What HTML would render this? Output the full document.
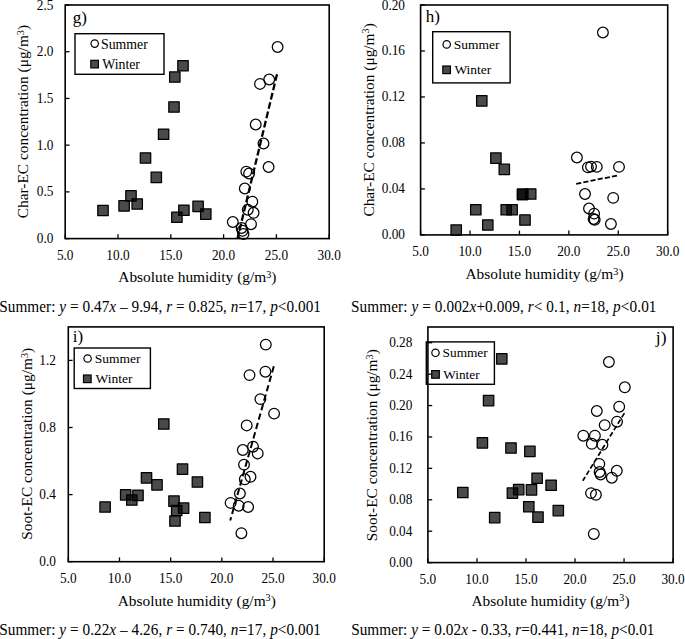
<!DOCTYPE html>
<html><head><meta charset="utf-8"><style>
html,body{margin:0;padding:0;background:#fff;width:685px;height:639px;overflow:hidden}
svg{display:block}
text{font-family:"Liberation Serif", serif;fill:#000}
</style></head><body>
<svg width="685" height="639" viewBox="0 0 685 639">
<rect width="685" height="639" fill="#fff"/>
<g id="pg">
<circle cx="277.6" cy="47" r="5.35" fill="none" stroke="#000" stroke-width="1.25"/>
<circle cx="260" cy="83.9" r="5.35" fill="none" stroke="#000" stroke-width="1.25"/>
<circle cx="269.2" cy="79.5" r="5.35" fill="none" stroke="#000" stroke-width="1.25"/>
<circle cx="255.7" cy="124.5" r="5.35" fill="none" stroke="#000" stroke-width="1.25"/>
<circle cx="263.5" cy="143.5" r="5.35" fill="none" stroke="#000" stroke-width="1.25"/>
<circle cx="268.6" cy="167" r="5.35" fill="none" stroke="#000" stroke-width="1.25"/>
<circle cx="246.3" cy="171.6" r="5.35" fill="none" stroke="#000" stroke-width="1.25"/>
<circle cx="249.1" cy="173.5" r="5.35" fill="none" stroke="#000" stroke-width="1.25"/>
<circle cx="244.8" cy="188.5" r="5.35" fill="none" stroke="#000" stroke-width="1.25"/>
<circle cx="252.3" cy="201.7" r="5.35" fill="none" stroke="#000" stroke-width="1.25"/>
<circle cx="247.8" cy="209.7" r="5.35" fill="none" stroke="#000" stroke-width="1.25"/>
<circle cx="253.6" cy="212.8" r="5.35" fill="none" stroke="#000" stroke-width="1.25"/>
<circle cx="232.8" cy="222" r="5.35" fill="none" stroke="#000" stroke-width="1.25"/>
<circle cx="251" cy="224.2" r="5.35" fill="none" stroke="#000" stroke-width="1.25"/>
<circle cx="241.6" cy="228" r="5.35" fill="none" stroke="#000" stroke-width="1.25"/>
<circle cx="242.5" cy="230.8" r="5.35" fill="none" stroke="#000" stroke-width="1.25"/>
<circle cx="243.5" cy="234" r="5.35" fill="none" stroke="#000" stroke-width="1.25"/>
<rect x="97.8" y="205.3" width="10.4" height="10.4" fill="#000" fill-opacity="0.71" stroke="#000" stroke-width="1.25" stroke-linejoin="round"/>
<rect x="118.9" y="200.7" width="10.4" height="10.4" fill="#000" fill-opacity="0.71" stroke="#000" stroke-width="1.25" stroke-linejoin="round"/>
<rect x="125.8" y="190.7" width="10.4" height="10.4" fill="#000" fill-opacity="0.71" stroke="#000" stroke-width="1.25" stroke-linejoin="round"/>
<rect x="132" y="198.8" width="10.4" height="10.4" fill="#000" fill-opacity="0.71" stroke="#000" stroke-width="1.25" stroke-linejoin="round"/>
<rect x="140.3" y="152.8" width="10.4" height="10.4" fill="#000" fill-opacity="0.71" stroke="#000" stroke-width="1.25" stroke-linejoin="round"/>
<rect x="151.1" y="172.1" width="10.4" height="10.4" fill="#000" fill-opacity="0.71" stroke="#000" stroke-width="1.25" stroke-linejoin="round"/>
<rect x="158.4" y="129" width="10.4" height="10.4" fill="#000" fill-opacity="0.71" stroke="#000" stroke-width="1.25" stroke-linejoin="round"/>
<rect x="171.7" y="212" width="10.4" height="10.4" fill="#000" fill-opacity="0.71" stroke="#000" stroke-width="1.25" stroke-linejoin="round"/>
<rect x="178.7" y="205" width="10.4" height="10.4" fill="#000" fill-opacity="0.71" stroke="#000" stroke-width="1.25" stroke-linejoin="round"/>
<rect x="192.9" y="201.2" width="10.4" height="10.4" fill="#000" fill-opacity="0.71" stroke="#000" stroke-width="1.25" stroke-linejoin="round"/>
<rect x="200.6" y="208.9" width="10.4" height="10.4" fill="#000" fill-opacity="0.71" stroke="#000" stroke-width="1.25" stroke-linejoin="round"/>
<rect x="177.8" y="60.5" width="10.4" height="10.4" fill="#000" fill-opacity="0.71" stroke="#000" stroke-width="1.25" stroke-linejoin="round"/>
<rect x="169.6" y="71.8" width="10.4" height="10.4" fill="#000" fill-opacity="0.71" stroke="#000" stroke-width="1.25" stroke-linejoin="round"/>
<rect x="168.8" y="101.8" width="10.4" height="10.4" fill="#000" fill-opacity="0.71" stroke="#000" stroke-width="1.25" stroke-linejoin="round"/>
<line x1="277" y1="74.2" x2="237.5" y2="238.6" stroke="#000" stroke-width="2.3" stroke-dasharray="6.8 2.8"/>
<rect x="75.0" y="33.7" width="89" height="40.6" fill="#fff" stroke="#000" stroke-width="1.4"/>
<circle cx="94.7" cy="43.6" r="3.7" fill="none" stroke="#000" stroke-width="1.2"/>
<rect x="90.8" y="60.3" width="7.6" height="7.6" fill="#000" fill-opacity="0.71" stroke="#000" stroke-width="1.2"/>
<text x="101.0" y="48.9" font-size="13.8">Summer</text>
<text x="102.2" y="69.2" font-size="13.8">Winter</text>
<rect x="65.2" y="5.0" width="264" height="233.6" fill="none" stroke="#000" stroke-width="1.6"/>
<line x1="65.2" y1="238.6" x2="69.5" y2="238.6" stroke="#000" stroke-width="1.3"/>
<text transform="translate(53.4,243.2) scale(1,1.07)" text-anchor="end" font-size="13.3">0.0</text>
<line x1="65.2" y1="191.88" x2="69.5" y2="191.88" stroke="#000" stroke-width="1.3"/>
<text transform="translate(53.4,196.48) scale(1,1.07)" text-anchor="end" font-size="13.3">0.5</text>
<line x1="65.2" y1="145.16" x2="69.5" y2="145.16" stroke="#000" stroke-width="1.3"/>
<text transform="translate(53.4,149.76) scale(1,1.07)" text-anchor="end" font-size="13.3">1.0</text>
<line x1="65.2" y1="98.44" x2="69.5" y2="98.44" stroke="#000" stroke-width="1.3"/>
<text transform="translate(53.4,103.04) scale(1,1.07)" text-anchor="end" font-size="13.3">1.5</text>
<line x1="65.2" y1="51.72" x2="69.5" y2="51.72" stroke="#000" stroke-width="1.3"/>
<text transform="translate(53.4,56.32) scale(1,1.07)" text-anchor="end" font-size="13.3">2.0</text>
<line x1="65.2" y1="5" x2="69.5" y2="5" stroke="#000" stroke-width="1.3"/>
<text transform="translate(53.4,9.6) scale(1,1.07)" text-anchor="end" font-size="13.3">2.5</text>
<line x1="65.2" y1="238.6" x2="65.2" y2="234.3" stroke="#000" stroke-width="1.3"/>
<text transform="translate(65.2,260.0) scale(1,1.07)" text-anchor="middle" font-size="13.3">5.0</text>
<line x1="118" y1="238.6" x2="118" y2="234.3" stroke="#000" stroke-width="1.3"/>
<text transform="translate(118,260.0) scale(1,1.07)" text-anchor="middle" font-size="13.3">10.0</text>
<line x1="170.8" y1="238.6" x2="170.8" y2="234.3" stroke="#000" stroke-width="1.3"/>
<text transform="translate(170.8,260.0) scale(1,1.07)" text-anchor="middle" font-size="13.3">15.0</text>
<line x1="223.6" y1="238.6" x2="223.6" y2="234.3" stroke="#000" stroke-width="1.3"/>
<text transform="translate(223.6,260.0) scale(1,1.07)" text-anchor="middle" font-size="13.3">20.0</text>
<line x1="276.4" y1="238.6" x2="276.4" y2="234.3" stroke="#000" stroke-width="1.3"/>
<text transform="translate(276.4,260.0) scale(1,1.07)" text-anchor="middle" font-size="13.3">25.0</text>
<line x1="329.2" y1="238.6" x2="329.2" y2="234.3" stroke="#000" stroke-width="1.3"/>
<text transform="translate(329.2,260.0) scale(1,1.07)" text-anchor="middle" font-size="13.3">30.0</text>
<text x="118.3" y="282.1" font-size="15.4">Absolute humidity (g/m<tspan font-size="0.66em" dy="-4.3">3</tspan><tspan dy="4.3">)</tspan></text>
<text transform="translate(28.3,218.3) rotate(-90)" font-size="15.4">Char-EC concentration (μg/m<tspan font-size="0.66em" dy="-4.3">3</tspan><tspan dy="4.3">)</tspan></text>
<text x="72.8" y="23.0" font-size="17">g)</text>
<text transform="translate(-0.8,311.6) scale(1,1.04)" font-size="15.25" textLength="321.8" lengthAdjust="spacing">Summer: <tspan font-style="italic">y</tspan> = 0.47<tspan font-style="italic">x</tspan> – 9.94, <tspan font-style="italic">r</tspan> = 0.825, <tspan font-style="italic">n</tspan>=17, <tspan font-style="italic">p</tspan>&lt;0.001</text>
</g>
<g id="ph">
<circle cx="602.9" cy="32.5" r="5.35" fill="none" stroke="#000" stroke-width="1.25"/>
<circle cx="576.9" cy="157.5" r="5.35" fill="none" stroke="#000" stroke-width="1.25"/>
<circle cx="587.9" cy="167.4" r="5.35" fill="none" stroke="#000" stroke-width="1.25"/>
<circle cx="591" cy="166.6" r="5.35" fill="none" stroke="#000" stroke-width="1.25"/>
<circle cx="596.8" cy="166.9" r="5.35" fill="none" stroke="#000" stroke-width="1.25"/>
<circle cx="619" cy="166.9" r="5.35" fill="none" stroke="#000" stroke-width="1.25"/>
<circle cx="585" cy="194" r="5.35" fill="none" stroke="#000" stroke-width="1.25"/>
<circle cx="613.2" cy="197.9" r="5.35" fill="none" stroke="#000" stroke-width="1.25"/>
<circle cx="589" cy="208.5" r="5.35" fill="none" stroke="#000" stroke-width="1.25"/>
<circle cx="594.1" cy="213.6" r="5.35" fill="none" stroke="#000" stroke-width="1.25"/>
<circle cx="593.6" cy="219" r="5.35" fill="none" stroke="#000" stroke-width="1.25"/>
<circle cx="594.7" cy="219.8" r="5.35" fill="none" stroke="#000" stroke-width="1.25"/>
<circle cx="610.9" cy="224" r="5.35" fill="none" stroke="#000" stroke-width="1.25"/>
<rect x="451" y="224.8" width="10.4" height="10.4" fill="#000" fill-opacity="0.71" stroke="#000" stroke-width="1.25" stroke-linejoin="round"/>
<rect x="470.6" y="204.5" width="10.4" height="10.4" fill="#000" fill-opacity="0.71" stroke="#000" stroke-width="1.25" stroke-linejoin="round"/>
<rect x="476.6" y="95.7" width="10.4" height="10.4" fill="#000" fill-opacity="0.71" stroke="#000" stroke-width="1.25" stroke-linejoin="round"/>
<rect x="482.6" y="219.8" width="10.4" height="10.4" fill="#000" fill-opacity="0.71" stroke="#000" stroke-width="1.25" stroke-linejoin="round"/>
<rect x="490.7" y="152.9" width="10.4" height="10.4" fill="#000" fill-opacity="0.71" stroke="#000" stroke-width="1.25" stroke-linejoin="round"/>
<rect x="499.1" y="164.2" width="10.4" height="10.4" fill="#000" fill-opacity="0.71" stroke="#000" stroke-width="1.25" stroke-linejoin="round"/>
<rect x="501" y="204.5" width="10.4" height="10.4" fill="#000" fill-opacity="0.71" stroke="#000" stroke-width="1.25" stroke-linejoin="round"/>
<rect x="506.9" y="204.5" width="10.4" height="10.4" fill="#000" fill-opacity="0.71" stroke="#000" stroke-width="1.25" stroke-linejoin="round"/>
<rect x="517.4" y="189.1" width="10.4" height="10.4" fill="#000" fill-opacity="0.71" stroke="#000" stroke-width="1.25" stroke-linejoin="round"/>
<rect x="517.4" y="189.1" width="10.4" height="10.4" fill="#000" fill-opacity="0.71" stroke="#000" stroke-width="1.25" stroke-linejoin="round"/>
<rect x="519.8" y="214.8" width="10.4" height="10.4" fill="#000" fill-opacity="0.71" stroke="#000" stroke-width="1.25" stroke-linejoin="round"/>
<rect x="525.5" y="188.8" width="10.4" height="10.4" fill="#000" fill-opacity="0.71" stroke="#000" stroke-width="1.25" stroke-linejoin="round"/>
<line x1="576.2" y1="183.8" x2="618" y2="175.4" stroke="#000" stroke-width="1.8" stroke-dasharray="5.1 2.2"/>
<rect x="432.7" y="31.7" width="77.4" height="51.2" fill="#fff" stroke="#000" stroke-width="1.4"/>
<circle cx="446.7" cy="44.4" r="3.7" fill="none" stroke="#000" stroke-width="1.2"/>
<rect x="442.8" y="66" width="7.6" height="7.6" fill="#000" fill-opacity="0.71" stroke="#000" stroke-width="1.2"/>
<text x="453.7" y="48.8" font-size="13.5">Summer</text>
<text x="454.4" y="73.6" font-size="13.5">Winter</text>
<rect x="420.6" y="5.0" width="247.1" height="229.9" fill="none" stroke="#000" stroke-width="1.6"/>
<line x1="420.6" y1="234.9" x2="424.9" y2="234.9" stroke="#000" stroke-width="1.3"/>
<text transform="translate(405.0,239.4) scale(1,1.07)" text-anchor="end" font-size="13.3">0.00</text>
<line x1="420.6" y1="188.92" x2="424.9" y2="188.92" stroke="#000" stroke-width="1.3"/>
<text transform="translate(405.0,193.42) scale(1,1.07)" text-anchor="end" font-size="13.3">0.04</text>
<line x1="420.6" y1="142.94" x2="424.9" y2="142.94" stroke="#000" stroke-width="1.3"/>
<text transform="translate(405.0,147.44) scale(1,1.07)" text-anchor="end" font-size="13.3">0.08</text>
<line x1="420.6" y1="96.96" x2="424.9" y2="96.96" stroke="#000" stroke-width="1.3"/>
<text transform="translate(405.0,101.46) scale(1,1.07)" text-anchor="end" font-size="13.3">0.12</text>
<line x1="420.6" y1="50.98" x2="424.9" y2="50.98" stroke="#000" stroke-width="1.3"/>
<text transform="translate(405.0,55.48) scale(1,1.07)" text-anchor="end" font-size="13.3">0.16</text>
<line x1="420.6" y1="5" x2="424.9" y2="5" stroke="#000" stroke-width="1.3"/>
<text transform="translate(405.0,9.5) scale(1,1.07)" text-anchor="end" font-size="13.3">0.20</text>
<line x1="420.6" y1="234.9" x2="420.6" y2="230.6" stroke="#000" stroke-width="1.3"/>
<text transform="translate(420.6,256.2) scale(1,1.07)" text-anchor="middle" font-size="13.3">5.0</text>
<line x1="470.02" y1="234.9" x2="470.02" y2="230.6" stroke="#000" stroke-width="1.3"/>
<text transform="translate(470.02,256.2) scale(1,1.07)" text-anchor="middle" font-size="13.3">10.0</text>
<line x1="519.44" y1="234.9" x2="519.44" y2="230.6" stroke="#000" stroke-width="1.3"/>
<text transform="translate(519.44,256.2) scale(1,1.07)" text-anchor="middle" font-size="13.3">15.0</text>
<line x1="568.86" y1="234.9" x2="568.86" y2="230.6" stroke="#000" stroke-width="1.3"/>
<text transform="translate(568.86,256.2) scale(1,1.07)" text-anchor="middle" font-size="13.3">20.0</text>
<line x1="618.28" y1="234.9" x2="618.28" y2="230.6" stroke="#000" stroke-width="1.3"/>
<text transform="translate(618.28,256.2) scale(1,1.07)" text-anchor="middle" font-size="13.3">25.0</text>
<line x1="667.7" y1="234.9" x2="667.7" y2="230.6" stroke="#000" stroke-width="1.3"/>
<text transform="translate(667.7,256.2) scale(1,1.07)" text-anchor="middle" font-size="13.3">30.0</text>
<text x="465.4" y="278.8" font-size="15.4">Absolute humidity (g/m<tspan font-size="0.66em" dy="-4.3">3</tspan><tspan dy="4.3">)</tspan></text>
<text transform="translate(373.7,216.6) rotate(-90)" font-size="15.4">Char-EC concentration (μg/m<tspan font-size="0.66em" dy="-4.3">3</tspan><tspan dy="4.3">)</tspan></text>
<text x="425.8" y="21.6" font-size="17">h)</text>
<text transform="translate(351.0,311.6) scale(1,1.04)" font-size="15.25" textLength="305.5" lengthAdjust="spacing">Summer: <tspan font-style="italic">y</tspan> = 0.002<tspan font-style="italic">x</tspan>+0.009, <tspan font-style="italic">r</tspan>&lt; 0.1, <tspan font-style="italic">n</tspan>=18, <tspan font-style="italic">p</tspan>&lt;0.01</text>
</g>
<g id="pi">
<circle cx="265.8" cy="344.6" r="5.35" fill="none" stroke="#000" stroke-width="1.25"/>
<circle cx="249.5" cy="375.1" r="5.35" fill="none" stroke="#000" stroke-width="1.25"/>
<circle cx="265.4" cy="371.7" r="5.35" fill="none" stroke="#000" stroke-width="1.25"/>
<circle cx="260.4" cy="399.1" r="5.35" fill="none" stroke="#000" stroke-width="1.25"/>
<circle cx="274.1" cy="413.6" r="5.35" fill="none" stroke="#000" stroke-width="1.25"/>
<circle cx="246.7" cy="425.4" r="5.35" fill="none" stroke="#000" stroke-width="1.25"/>
<circle cx="242.8" cy="450" r="5.35" fill="none" stroke="#000" stroke-width="1.25"/>
<circle cx="253" cy="446.7" r="5.35" fill="none" stroke="#000" stroke-width="1.25"/>
<circle cx="257.7" cy="453.4" r="5.35" fill="none" stroke="#000" stroke-width="1.25"/>
<circle cx="244" cy="464.6" r="5.35" fill="none" stroke="#000" stroke-width="1.25"/>
<circle cx="250.5" cy="476.8" r="5.35" fill="none" stroke="#000" stroke-width="1.25"/>
<circle cx="244.8" cy="479.3" r="5.35" fill="none" stroke="#000" stroke-width="1.25"/>
<circle cx="239.9" cy="493.5" r="5.35" fill="none" stroke="#000" stroke-width="1.25"/>
<circle cx="230.6" cy="502.9" r="5.35" fill="none" stroke="#000" stroke-width="1.25"/>
<circle cx="238.7" cy="505.7" r="5.35" fill="none" stroke="#000" stroke-width="1.25"/>
<circle cx="248.1" cy="507" r="5.35" fill="none" stroke="#000" stroke-width="1.25"/>
<circle cx="241.4" cy="533.2" r="5.35" fill="none" stroke="#000" stroke-width="1.25"/>
<rect x="158.6" y="418.8" width="10.4" height="10.4" fill="#000" fill-opacity="0.71" stroke="#000" stroke-width="1.25" stroke-linejoin="round"/>
<rect x="177.3" y="463.9" width="10.4" height="10.4" fill="#000" fill-opacity="0.71" stroke="#000" stroke-width="1.25" stroke-linejoin="round"/>
<rect x="192.2" y="476.8" width="10.4" height="10.4" fill="#000" fill-opacity="0.71" stroke="#000" stroke-width="1.25" stroke-linejoin="round"/>
<rect x="141.3" y="472.6" width="10.4" height="10.4" fill="#000" fill-opacity="0.71" stroke="#000" stroke-width="1.25" stroke-linejoin="round"/>
<rect x="151.8" y="479.6" width="10.4" height="10.4" fill="#000" fill-opacity="0.71" stroke="#000" stroke-width="1.25" stroke-linejoin="round"/>
<rect x="120.5" y="489.6" width="10.4" height="10.4" fill="#000" fill-opacity="0.71" stroke="#000" stroke-width="1.25" stroke-linejoin="round"/>
<rect x="132.8" y="490.1" width="10.4" height="10.4" fill="#000" fill-opacity="0.71" stroke="#000" stroke-width="1.25" stroke-linejoin="round"/>
<rect x="126.6" y="494.8" width="10.4" height="10.4" fill="#000" fill-opacity="0.71" stroke="#000" stroke-width="1.25" stroke-linejoin="round"/>
<rect x="99.9" y="501.8" width="10.4" height="10.4" fill="#000" fill-opacity="0.71" stroke="#000" stroke-width="1.25" stroke-linejoin="round"/>
<rect x="168.8" y="495.9" width="10.4" height="10.4" fill="#000" fill-opacity="0.71" stroke="#000" stroke-width="1.25" stroke-linejoin="round"/>
<rect x="178.4" y="502.9" width="10.4" height="10.4" fill="#000" fill-opacity="0.71" stroke="#000" stroke-width="1.25" stroke-linejoin="round"/>
<rect x="171.5" y="505.3" width="10.4" height="10.4" fill="#000" fill-opacity="0.71" stroke="#000" stroke-width="1.25" stroke-linejoin="round"/>
<rect x="169.8" y="515.8" width="10.4" height="10.4" fill="#000" fill-opacity="0.71" stroke="#000" stroke-width="1.25" stroke-linejoin="round"/>
<rect x="199.7" y="512.3" width="10.4" height="10.4" fill="#000" fill-opacity="0.71" stroke="#000" stroke-width="1.25" stroke-linejoin="round"/>
<line x1="273.8" y1="366.3" x2="230.2" y2="520.6" stroke="#000" stroke-width="2.0" stroke-dasharray="6.4 3.4"/>
<rect x="74.2" y="348.0" width="76.2" height="40.5" fill="#fff" stroke="#000" stroke-width="1.4"/>
<circle cx="87.6" cy="358.5" r="3.7" fill="none" stroke="#000" stroke-width="1.2"/>
<rect x="83.5" y="375" width="7.6" height="7.6" fill="#000" fill-opacity="0.71" stroke="#000" stroke-width="1.2"/>
<text x="94.7" y="362.7" font-size="13.5">Summer</text>
<text x="95.5" y="383.1" font-size="13.5">Winter</text>
<rect x="68.3" y="326.9" width="255.9" height="234.8" fill="none" stroke="#000" stroke-width="1.6"/>
<line x1="68.3" y1="561.7" x2="72.6" y2="561.7" stroke="#000" stroke-width="1.3"/>
<text transform="translate(56.0,566.2) scale(1,1.07)" text-anchor="end" font-size="13.3">0.0</text>
<line x1="68.3" y1="494.6" x2="72.6" y2="494.6" stroke="#000" stroke-width="1.3"/>
<text transform="translate(56.0,499.1) scale(1,1.07)" text-anchor="end" font-size="13.3">0.4</text>
<line x1="68.3" y1="427.5" x2="72.6" y2="427.5" stroke="#000" stroke-width="1.3"/>
<text transform="translate(56.0,432) scale(1,1.07)" text-anchor="end" font-size="13.3">0.8</text>
<line x1="68.3" y1="360.4" x2="72.6" y2="360.4" stroke="#000" stroke-width="1.3"/>
<text transform="translate(56.0,364.9) scale(1,1.07)" text-anchor="end" font-size="13.3">1.2</text>
<line x1="68.3" y1="561.7" x2="68.3" y2="557.4" stroke="#000" stroke-width="1.3"/>
<text transform="translate(68.3,582.9) scale(1,1.07)" text-anchor="middle" font-size="13.3">5.0</text>
<line x1="119.48" y1="561.7" x2="119.48" y2="557.4" stroke="#000" stroke-width="1.3"/>
<text transform="translate(119.48,582.9) scale(1,1.07)" text-anchor="middle" font-size="13.3">10.0</text>
<line x1="170.66" y1="561.7" x2="170.66" y2="557.4" stroke="#000" stroke-width="1.3"/>
<text transform="translate(170.66,582.9) scale(1,1.07)" text-anchor="middle" font-size="13.3">15.0</text>
<line x1="221.84" y1="561.7" x2="221.84" y2="557.4" stroke="#000" stroke-width="1.3"/>
<text transform="translate(221.84,582.9) scale(1,1.07)" text-anchor="middle" font-size="13.3">20.0</text>
<line x1="273.02" y1="561.7" x2="273.02" y2="557.4" stroke="#000" stroke-width="1.3"/>
<text transform="translate(273.02,582.9) scale(1,1.07)" text-anchor="middle" font-size="13.3">25.0</text>
<line x1="324.2" y1="561.7" x2="324.2" y2="557.4" stroke="#000" stroke-width="1.3"/>
<text transform="translate(324.2,582.9) scale(1,1.07)" text-anchor="middle" font-size="13.3">30.0</text>
<text x="117.7" y="605.5" font-size="15.4">Absolute humidity (g/m<tspan font-size="0.66em" dy="-4.3">3</tspan><tspan dy="4.3">)</tspan></text>
<text transform="translate(31.9,539.8) rotate(-90)" font-size="15.4">Soot-EC concentration (μg/m<tspan font-size="0.66em" dy="-4.3">3</tspan><tspan dy="4.3">)</tspan></text>
<text x="72.8" y="341.7" font-size="17">i)</text>
<text transform="translate(-0.8,635.0) scale(1,1.04)" font-size="15.25" textLength="321.8" lengthAdjust="spacing">Summer: <tspan font-style="italic">y</tspan> = 0.22<tspan font-style="italic">x</tspan> – 4.26, <tspan font-style="italic">r</tspan> = 0.740, <tspan font-style="italic">n</tspan>=17, <tspan font-style="italic">p</tspan>&lt;0.001</text>
</g>
<g id="pj">
<circle cx="608.9" cy="362" r="5.35" fill="none" stroke="#000" stroke-width="1.25"/>
<circle cx="624.8" cy="387.3" r="5.35" fill="none" stroke="#000" stroke-width="1.25"/>
<circle cx="619.2" cy="406.7" r="5.35" fill="none" stroke="#000" stroke-width="1.25"/>
<circle cx="596.8" cy="411" r="5.35" fill="none" stroke="#000" stroke-width="1.25"/>
<circle cx="617" cy="421.7" r="5.35" fill="none" stroke="#000" stroke-width="1.25"/>
<circle cx="604.7" cy="425.1" r="5.35" fill="none" stroke="#000" stroke-width="1.25"/>
<circle cx="583.3" cy="435.7" r="5.35" fill="none" stroke="#000" stroke-width="1.25"/>
<circle cx="594.9" cy="435.7" r="5.35" fill="none" stroke="#000" stroke-width="1.25"/>
<circle cx="591.8" cy="443.8" r="5.35" fill="none" stroke="#000" stroke-width="1.25"/>
<circle cx="602.4" cy="444.8" r="5.35" fill="none" stroke="#000" stroke-width="1.25"/>
<circle cx="599.3" cy="463.9" r="5.35" fill="none" stroke="#000" stroke-width="1.25"/>
<circle cx="599.6" cy="472" r="5.35" fill="none" stroke="#000" stroke-width="1.25"/>
<circle cx="600.6" cy="474.5" r="5.35" fill="none" stroke="#000" stroke-width="1.25"/>
<circle cx="616.8" cy="470.8" r="5.35" fill="none" stroke="#000" stroke-width="1.25"/>
<circle cx="611.8" cy="477.7" r="5.35" fill="none" stroke="#000" stroke-width="1.25"/>
<circle cx="591" cy="493.1" r="5.35" fill="none" stroke="#000" stroke-width="1.25"/>
<circle cx="595.9" cy="494.8" r="5.35" fill="none" stroke="#000" stroke-width="1.25"/>
<circle cx="593.8" cy="533.9" r="5.35" fill="none" stroke="#000" stroke-width="1.25"/>
<rect x="496.6" y="353.7" width="10.4" height="10.4" fill="#000" fill-opacity="0.71" stroke="#000" stroke-width="1.25" stroke-linejoin="round"/>
<rect x="483.4" y="395.4" width="10.4" height="10.4" fill="#000" fill-opacity="0.71" stroke="#000" stroke-width="1.25" stroke-linejoin="round"/>
<rect x="477.2" y="437.6" width="10.4" height="10.4" fill="#000" fill-opacity="0.71" stroke="#000" stroke-width="1.25" stroke-linejoin="round"/>
<rect x="505.8" y="442.8" width="10.4" height="10.4" fill="#000" fill-opacity="0.71" stroke="#000" stroke-width="1.25" stroke-linejoin="round"/>
<rect x="524.7" y="446.2" width="10.4" height="10.4" fill="#000" fill-opacity="0.71" stroke="#000" stroke-width="1.25" stroke-linejoin="round"/>
<rect x="531.9" y="473" width="10.4" height="10.4" fill="#000" fill-opacity="0.71" stroke="#000" stroke-width="1.25" stroke-linejoin="round"/>
<rect x="545.9" y="480" width="10.4" height="10.4" fill="#000" fill-opacity="0.71" stroke="#000" stroke-width="1.25" stroke-linejoin="round"/>
<rect x="457.6" y="487.3" width="10.4" height="10.4" fill="#000" fill-opacity="0.71" stroke="#000" stroke-width="1.25" stroke-linejoin="round"/>
<rect x="507.2" y="487.9" width="10.4" height="10.4" fill="#000" fill-opacity="0.71" stroke="#000" stroke-width="1.25" stroke-linejoin="round"/>
<rect x="513.5" y="484.4" width="10.4" height="10.4" fill="#000" fill-opacity="0.71" stroke="#000" stroke-width="1.25" stroke-linejoin="round"/>
<rect x="526.3" y="484.7" width="10.4" height="10.4" fill="#000" fill-opacity="0.71" stroke="#000" stroke-width="1.25" stroke-linejoin="round"/>
<rect x="523.6" y="501.5" width="10.4" height="10.4" fill="#000" fill-opacity="0.71" stroke="#000" stroke-width="1.25" stroke-linejoin="round"/>
<rect x="489.5" y="512.4" width="10.4" height="10.4" fill="#000" fill-opacity="0.71" stroke="#000" stroke-width="1.25" stroke-linejoin="round"/>
<rect x="532.8" y="511.9" width="10.4" height="10.4" fill="#000" fill-opacity="0.71" stroke="#000" stroke-width="1.25" stroke-linejoin="round"/>
<rect x="553.1" y="505.4" width="10.4" height="10.4" fill="#000" fill-opacity="0.71" stroke="#000" stroke-width="1.25" stroke-linejoin="round"/>
<line x1="624.4" y1="413.1" x2="582.8" y2="480.8" stroke="#000" stroke-width="1.7" stroke-dasharray="5 2.5"/>
<rect x="426.3" y="341.9" width="68.1" height="42.4" fill="#fff" stroke="#000" stroke-width="1.4"/>
<circle cx="435.5" cy="352.8" r="3.7" fill="none" stroke="#000" stroke-width="1.2"/>
<rect x="431.7" y="370.6" width="7.6" height="7.6" fill="#000" fill-opacity="0.71" stroke="#000" stroke-width="1.2"/>
<text x="442.6" y="356.6" font-size="13.3">Summer</text>
<text x="443.2" y="378.5" font-size="13.3">Winter</text>
<rect x="427.9" y="327.0" width="245.2" height="235.6" fill="none" stroke="#000" stroke-width="1.6"/>
<line x1="427.9" y1="562.6" x2="432.2" y2="562.6" stroke="#000" stroke-width="1.3"/>
<text transform="translate(412.4,567.1) scale(1,1.07)" text-anchor="end" font-size="13.3">0.00</text>
<line x1="427.9" y1="531.19" x2="432.2" y2="531.19" stroke="#000" stroke-width="1.3"/>
<text transform="translate(412.4,535.69) scale(1,1.07)" text-anchor="end" font-size="13.3">0.04</text>
<line x1="427.9" y1="499.78" x2="432.2" y2="499.78" stroke="#000" stroke-width="1.3"/>
<text transform="translate(412.4,504.28) scale(1,1.07)" text-anchor="end" font-size="13.3">0.08</text>
<line x1="427.9" y1="468.37" x2="432.2" y2="468.37" stroke="#000" stroke-width="1.3"/>
<text transform="translate(412.4,472.87) scale(1,1.07)" text-anchor="end" font-size="13.3">0.12</text>
<line x1="427.9" y1="436.96" x2="432.2" y2="436.96" stroke="#000" stroke-width="1.3"/>
<text transform="translate(412.4,441.46) scale(1,1.07)" text-anchor="end" font-size="13.3">0.16</text>
<line x1="427.9" y1="405.55" x2="432.2" y2="405.55" stroke="#000" stroke-width="1.3"/>
<text transform="translate(412.4,410.05) scale(1,1.07)" text-anchor="end" font-size="13.3">0.20</text>
<line x1="427.9" y1="374.14" x2="432.2" y2="374.14" stroke="#000" stroke-width="1.3"/>
<text transform="translate(412.4,378.64) scale(1,1.07)" text-anchor="end" font-size="13.3">0.24</text>
<line x1="427.9" y1="342.73" x2="432.2" y2="342.73" stroke="#000" stroke-width="1.3"/>
<text transform="translate(412.4,347.23) scale(1,1.07)" text-anchor="end" font-size="13.3">0.28</text>
<line x1="427.9" y1="562.6" x2="427.9" y2="558.3" stroke="#000" stroke-width="1.3"/>
<text transform="translate(427.9,584.0) scale(1,1.07)" text-anchor="middle" font-size="13.3">5.0</text>
<line x1="476.94" y1="562.6" x2="476.94" y2="558.3" stroke="#000" stroke-width="1.3"/>
<text transform="translate(476.94,584.0) scale(1,1.07)" text-anchor="middle" font-size="13.3">10.0</text>
<line x1="525.98" y1="562.6" x2="525.98" y2="558.3" stroke="#000" stroke-width="1.3"/>
<text transform="translate(525.98,584.0) scale(1,1.07)" text-anchor="middle" font-size="13.3">15.0</text>
<line x1="575.02" y1="562.6" x2="575.02" y2="558.3" stroke="#000" stroke-width="1.3"/>
<text transform="translate(575.02,584.0) scale(1,1.07)" text-anchor="middle" font-size="13.3">20.0</text>
<line x1="624.06" y1="562.6" x2="624.06" y2="558.3" stroke="#000" stroke-width="1.3"/>
<text transform="translate(624.06,584.0) scale(1,1.07)" text-anchor="middle" font-size="13.3">25.0</text>
<line x1="673.1" y1="562.6" x2="673.1" y2="558.3" stroke="#000" stroke-width="1.3"/>
<text transform="translate(673.1,584.0) scale(1,1.07)" text-anchor="middle" font-size="13.3">30.0</text>
<text x="471.4" y="605.5" font-size="15.4">Absolute humidity (g/m<tspan font-size="0.66em" dy="-4.3">3</tspan><tspan dy="4.3">)</tspan></text>
<text transform="translate(377.0,541.2) rotate(-90)" font-size="15.4">Soot-EC concentration (μg/m<tspan font-size="0.66em" dy="-4.3">3</tspan><tspan dy="4.3">)</tspan></text>
<text x="655.8" y="343.0" font-size="17.5">j)</text>
<text transform="translate(351.2,635.0) scale(1,1.04)" font-size="15.25" textLength="303.3" lengthAdjust="spacing">Summer: <tspan font-style="italic">y</tspan> = 0.02<tspan font-style="italic">x</tspan> - 0.33, <tspan font-style="italic">r</tspan>=0.441, <tspan font-style="italic">n</tspan>=18, <tspan font-style="italic">p</tspan>&lt;0.01</text>
</g>
</svg>
</body></html>
